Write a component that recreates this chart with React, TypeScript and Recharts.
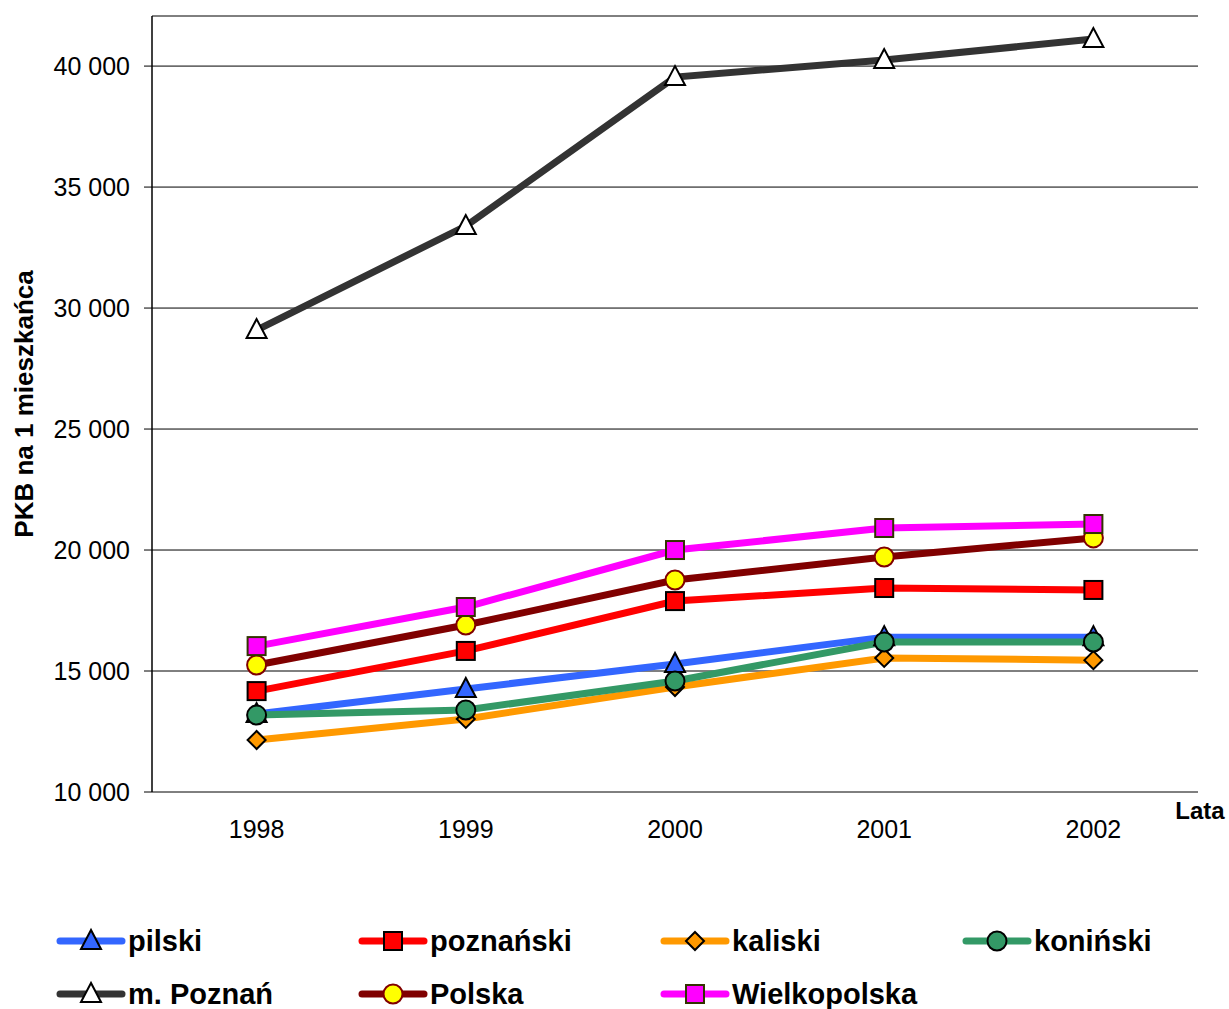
import React from 'react';
import { LineChart, Line, XAxis, YAxis, CartesianGrid } from 'recharts';

const years = ['1998', '1999', '2000', '2001', '2002'];
const pilski = [13220, 14260, 15290, 16400, 16400];
const poznanski = [14170, 15830, 17890, 18430, 18350];
const kaliski = [12150, 13020, 14340, 15540, 15450];
const koninski = [13180, 13390, 14590, 16200, 16200];
const mPoznan = [29090, 33390, 39545, 40250, 41116];
const polska = [15250, 16900, 18760, 19710, 20500];
const wielkopolska = [16030, 17645, 20000, 20910, 21075];
const yTicks = [10000, 15000, 20000, 25000, 30000, 35000, 40000];

type SeriesDef = {
  key: string;
  name: string;
  color: string;
  shape: 'triangle' | 'square' | 'diamond' | 'circle';
  fill: string;
  stroke: string;
  values: number[];
};

const series: SeriesDef[] = [
  { key: 'pilski', name: 'pilski', color: '#3366FF', shape: 'triangle', fill: '#3366FF', stroke: '#000000', values: pilski },
  { key: 'poznanski', name: 'poznański', color: '#FF0000', shape: 'square', fill: '#FF0000', stroke: '#000000', values: poznanski },
  { key: 'kaliski', name: 'kaliski', color: '#FF9900', shape: 'diamond', fill: '#FF9900', stroke: '#000000', values: kaliski },
  { key: 'koninski', name: 'koniński', color: '#339966', shape: 'circle', fill: '#339966', stroke: '#000000', values: koninski },
  { key: 'mPoznan', name: 'm. Poznań', color: '#333333', shape: 'triangle', fill: '#FFFFFF', stroke: '#000000', values: mPoznan },
  { key: 'polska', name: 'Polska', color: '#800000', shape: 'circle', fill: '#FFFF00', stroke: '#800000', values: polska },
  { key: 'wielkopolska', name: 'Wielkopolska', color: '#FF00FF', shape: 'square', fill: '#FF00FF', stroke: '#333300', values: wielkopolska },
];

const data = years.map((y, i) => {
  const row: Record<string, number | string> = { x: i + 0.5, year: y };
  series.forEach((s) => {
    row[s.key] = s.values[i];
  });
  return row;
});

const FONT = '"Liberation Sans", Arial, sans-serif';

function MarkerShape({ shape, cx, cy, fill, stroke }: { shape: string; cx: number; cy: number; fill: string; stroke: string }) {
  if (shape === 'triangle') {
    return (
      <polygon
        points={`${cx},${cy - 11} ${cx - 10},${cy + 8} ${cx + 10},${cy + 8}`}
        fill={fill}
        stroke={stroke}
        strokeWidth={2}
        strokeLinejoin="miter"
      />
    );
  }
  if (shape === 'square') {
    return <rect x={cx - 9} y={cy - 9} width={18} height={18} fill={fill} stroke={stroke} strokeWidth={2} />;
  }
  if (shape === 'diamond') {
    return (
      <polygon
        points={`${cx},${cy - 9} ${cx + 9},${cy} ${cx},${cy + 9} ${cx - 9},${cy}`}
        fill={fill}
        stroke={stroke}
        strokeWidth={2}
      />
    );
  }
  return <circle cx={cx} cy={cy} r={9.5} fill={fill} stroke={stroke} strokeWidth={2} />;
}

function makeDot(s: SeriesDef) {
  return (props: any) => {
    const { cx, cy, index } = props;
    if (cx == null || cy == null) return <g key={`${s.key}-${index}`} />;
    return (
      <g key={`${s.key}-${index}`}>
        <MarkerShape shape={s.shape} cx={cx} cy={cy} fill={s.fill} stroke={s.stroke} />
      </g>
    );
  };
}

const legendCols = [56, 358, 660, 962];
const legendRows = [941, 994];

function LegendOverlay() {
  return (
    <div style={{ position: 'absolute', left: 0, top: 0, width: 1229, height: 1009, pointerEvents: 'none' }}>
      {series.map((s, i) => {
        const col = i < 4 ? i : i - 4;
        const row = i < 4 ? 0 : 1;
        const x0 = legendCols[col];
        const yc = legendRows[row];
        return (
          <div key={s.key} style={{ position: 'absolute', left: x0, top: yc - 18, height: 36, display: 'flex', alignItems: 'center' }}>
            <svg width={70} height={36} style={{ display: 'block' }}>
              <line x1={4} y1={18} x2={66} y2={18} stroke={s.color} strokeWidth={7} strokeLinecap="round" />
              <MarkerShape shape={s.shape} cx={35} cy={18} fill={s.fill} stroke={s.stroke} />
            </svg>
            <span style={{ fontFamily: FONT, fontWeight: 'bold', fontSize: 29, color: '#000', marginLeft: 2, lineHeight: '36px', whiteSpace: 'nowrap' }}>
              {s.name}
            </span>
          </div>
        );
      })}
    </div>
  );
}

const fmt = (v: number) => {
  const s = String(Math.round(v));
  return s.replace(/\B(?=(\d{3})+(?!\d))/g, ' ');
};

export default function App() {
  return (
    <div style={{ position: 'absolute', left: 0, top: 0, width: 1229, height: 1009, background: '#fff', overflow: 'hidden' }}>
      <LineChart
        width={1229}
        height={1009}
        data={data}
        margin={{ top: 16, right: 31, left: 0, bottom: 157 }}
      >
        <CartesianGrid vertical={false} horizontal stroke="#000000" strokeWidth={1} />
        <XAxis
          xAxisId="ticks"
          type="number"
          dataKey="x"
          domain={[0, 5]}
          ticks={[0, 1, 2, 3, 4, 5]}
          tick={false}
          tickSize={8}
          height={0}
          axisLine={{ stroke: '#000000', strokeWidth: 1.5 }}
          tickLine={{ stroke: '#000000', strokeWidth: 1 }}
          allowDataOverflow
        />
        <XAxis
          xAxisId="main"
          type="number"
          dataKey="x"
          domain={[0, 5]}
          ticks={[0.5, 1.5, 2.5, 3.5, 4.5]}
          tickFormatter={(v: number) => years[Math.floor(v)]}
          tickLine={false}
          axisLine={false}
          tickSize={0}
          tickMargin={28}
          height={60}
          tick={{ fontFamily: FONT, fontSize: 25, fill: '#000' }}
          allowDataOverflow
        />
        <XAxis
          xAxisId="top"
          orientation="top"
          type="number"
          dataKey="x"
          domain={[0, 5]}
          tick={false}
          tickLine={false}
          height={0}
          axisLine={{ stroke: '#808080', strokeWidth: 2 }}
          allowDataOverflow
        />
        <YAxis
          type="number"
          domain={[10000, 42070]}
          ticks={yTicks}
          allowDataOverflow
          width={152}
          tickSize={8}
          tickMargin={14}
          tickFormatter={fmt}
          axisLine={{ stroke: '#000000', strokeWidth: 1.5 }}
          tickLine={{ stroke: '#000000' }}
          tick={{ fontFamily: FONT, fontSize: 25, fill: '#000' }}
          label={{
            content: () => (
              <g>
                <text
                  x={24}
                  y={404}
                  transform="rotate(-90 24 404)"
                  textAnchor="middle"
                  dominantBaseline="central"
                  fontFamily={FONT}
                  fontWeight="bold"
                  fontSize={26}
                  fill="#000"
                >
                  PKB na 1 mieszkańca
                </text>
                <text x={1200} y={819} textAnchor="middle" fontFamily={FONT} fontWeight="bold" fontSize={24} fill="#000">
                  Lata
                </text>
              </g>
            ),
          }}
        />
        <YAxis
          yAxisId="right"
          orientation="right"
          type="number"
          domain={[10000, 42070]}
          width={0}
          tick={false}
          tickLine={false}
          axisLine={{ stroke: '#808080', strokeWidth: 2 }}
          allowDataOverflow
        />
        {series.map((s) => (
          <Line
            key={s.key}
            xAxisId="main"
            type="linear"
            dataKey={s.key}
            name={s.name}
            stroke={s.color}
            strokeWidth={7}
            dot={makeDot(s)}
            activeDot={false}
            isAnimationActive={false}
          />
        ))}
      </LineChart>
      <LegendOverlay />
    </div>
  );
}
